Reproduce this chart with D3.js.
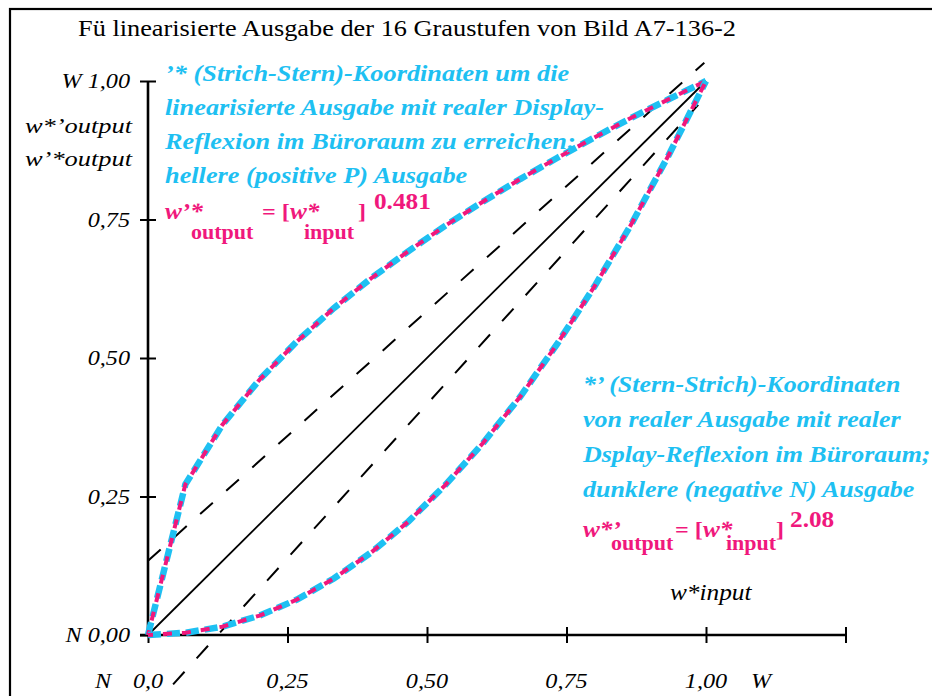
<!DOCTYPE html>
<html><head><meta charset="utf-8">
<script src="https://cdn.jsdelivr.net/npm/d3@7"></script>
<style>body{margin:0;background:#fff}svg{display:block}</style>
</head><body>
<script>
// ---- data ----
const grayInput = [0, 0.067, 0.133, 0.2, 0.267, 0.333, 0.4, 0.467, 0.533, 0.6, 0.667, 0.733, 0.8, 0.867, 0.933, 1.0];
const brighterOut = [0, 0.272, 0.379, 0.461, 0.530, 0.590, 0.644, 0.693, 0.739, 0.782, 0.823, 0.861, 0.898, 0.934, 0.967, 1.0];
const darkerOut = [0, 0.004, 0.015, 0.035, 0.064, 0.102, 0.149, 0.205, 0.271, 0.346, 0.430, 0.525, 0.629, 0.743, 0.866, 1.0];
const diagonal = [[0, 0], [1, 1]];
const upperDashed = [[0, 0.134], [0.997, 1.033]];
const lowerDashed = [[0.045, -0.089], [0.986, 0.957]];
const xTicks = [0, 0.25, 0.5, 0.75, 1.0, 1.25];
const xTickLabels = ["0,0", "0,25", "0,50", "0,75", "1,00"];
const yTicks = [0, 0.25, 0.5, 0.75, 1.0];
const yTickLabels = ["N 0,00", "0,25", "0,50", "0,75", "W 1,00"];
const title = "Fü linearisierte Ausgabe der 16 Graustufen von Bild A7-136-2";
const upperText = ["’* (Strich-Stern)-Koordinaten um die", "linearisierte Ausgabe mit realer Display-", "Reflexion im Büroraum zu erreichen;", "hellere (positive P) Ausgabe"];
const lowerText = ["*’ (Stern-Strich)-Koordinaten", "von realer Ausgabe mit realer", "Dsplay-Reflexion im Büroraum;", "dunklere (negative N) Ausgabe"];
const upperExp = "0.481";
const lowerExp = "2.08";

const W = 932, H = 696;
const CYAN = "#1ec0f2", MAG = "#f0187c";
const FONT = "'Liberation Serif','Times New Roman',Times,serif";
const SX = 1.1; // horizontal stretch of the lettering

const svg = d3.select("body").append("svg").attr("width", W).attr("height", H)
  .style("font-family", FONT);

function txt(parent, x, y, s, opt = {}) {
  const t = parent.append("text")
    .attr("transform", `translate(${x},${y}) scale(${opt.sx || SX},1)`)
    .attr("font-size", opt.size || 22)
    .text(s);
  if (opt.anchor) t.attr("text-anchor", opt.anchor);
  if (opt.italic) t.attr("font-style", "italic");
  if (opt.bold) t.attr("font-weight", "bold");
  if (opt.fill) t.attr("fill", opt.fill);
  return t;
}

// frame
svg.append("rect").attr("x", 10).attr("y", 9).attr("width", 940).attr("height", 700)
  .attr("fill", "none").attr("stroke", "#000").attr("stroke-width", 2.2);

const x = d3.scaleLinear().domain([0, 1]).range([148, 706]);
const y = d3.scaleLinear().domain([0, 1]).range([635, 81]);

// title
txt(svg, 78, 36, title, {size: 24, sx: 1.097});

// axes
const xAxis = d3.axisBottom(x).tickValues(xTicks).tickFormat("").tickSizeOuter(0).tickSizeInner(8);
const gx = svg.append("g").attr("transform", `translate(0,${y(0)})`).call(xAxis);
gx.select(".domain").attr("d", `M${x(0) - 8},0H${x(1.25)}`).attr("stroke-width", 2.6);
gx.selectAll(".tick line").attr("y1", -8).attr("y2", 8).attr("stroke-width", 2);

const yAxis = d3.axisLeft(y).tickValues(yTicks).tickFormat("").tickSizeOuter(0).tickSizeInner(8);
const gy = svg.append("g").attr("transform", `translate(${x(0)},0)`).call(yAxis);
gy.select(".domain").attr("d", `M0,${y(1)}V${y(0)}`).attr("stroke-width", 2.6);
gy.selectAll(".tick line").attr("x1", -8).attr("x2", 8).attr("stroke-width", 2);

// tick labels
const gxl = svg.append("g");
xTickLabels.forEach((d, i) => txt(gxl, x(xTicks[i]), 688, d, {italic: true, anchor: "middle"}));
txt(svg, 95, 688, "N", {italic: true});
txt(svg, 751, 688, "W", {italic: true});

const gyl = svg.append("g");
yTickLabels.forEach((d, i) => txt(gyl, 130, y(yTicks[i]) + 7, d, {italic: true, anchor: "end"}));

txt(svg, 132, 133, "w*’output", {italic: true, anchor: "end", sx: 1.2});
txt(svg, 132, 166, "w’*output", {italic: true, anchor: "end", sx: 1.2});
txt(svg, 670, 600, "w*input", {italic: true, size: 23});

// lines
const line = d3.line().x(d => x(d[0])).y(d => y(d[1]));
svg.append("path").attr("d", line(diagonal)).attr("fill", "none").attr("stroke", "#000").attr("stroke-width", 1.8);
[upperDashed, lowerDashed].forEach(p => {
  svg.append("path").attr("d", line(p)).attr("fill", "none").attr("stroke", "#000")
    .attr("stroke-width", 2).attr("stroke-dasharray", "17,18");
});

// curves
[brighterOut, darkerOut].forEach(vals => {
  const pts = grayInput.map((g, i) => [g, vals[i]]);
  svg.append("path").attr("d", line(pts)).attr("fill", "none").attr("stroke", CYAN)
    .attr("stroke-width", 6.5).attr("stroke-dasharray", "13,6");
  svg.append("path").attr("d", line(pts)).attr("fill", "none").attr("stroke", MAG)
    .attr("stroke-width", 4).attr("stroke-dasharray", "9,10").attr("stroke-dashoffset", 4);
});

// annotation texts
const tUp = svg.append("g");
upperText.forEach((t, i) => txt(tUp, 165, 81 + i * 34, t, {size: 23.5, sx: 1.12, bold: true, italic: true, fill: CYAN}));
const tLo = svg.append("g");
lowerText.forEach((t, i) => txt(tLo, 583, 392 + i * 35, t, {size: 23.5, sx: 1.105, bold: true, italic: true, fill: CYAN}));

// formulas: one text element, pieces placed with absolute tspan positions
function formula(o) {
  const t = svg.append("text").attr("transform", `scale(${SX},1)`)
    .attr("fill", MAG).attr("font-weight", "bold");
  const piece = (s, px, py, size, italic) => {
    const ts = t.append("tspan").attr("x", px / SX).attr("y", py).attr("font-size", size).text(s);
    if (italic) ts.attr("font-style", "italic");
  };
  piece(o.lead, o.x0, o.base, 23, true);
  piece("output", o.xSub1, o.sub, 20, false);
  piece("= [", o.xEq, o.base, 22, false);
  t.append("tspan").attr("font-size", 23).attr("font-style", "italic").text("w*");
  piece("input", o.xSub2, o.sub, 20, false);
  piece("]", o.xBr, o.base, 22, false);
  piece(o.exp, o.xExp, o.sup, 23, false);
}
formula({lead: "w’*", x0: 165, base: 219, sub: 239, sup: 209, xSub1: 191, xEq: 262, xSub2: 304, xBr: 358, xExp: 374, exp: upperExp});
formula({lead: "w*’", x0: 583, base: 537, sub: 550, sup: 527, xSub1: 611, xEq: 675, xSub2: 726, xBr: 776, xExp: 790, exp: lowerExp});
</script>
</body></html>
